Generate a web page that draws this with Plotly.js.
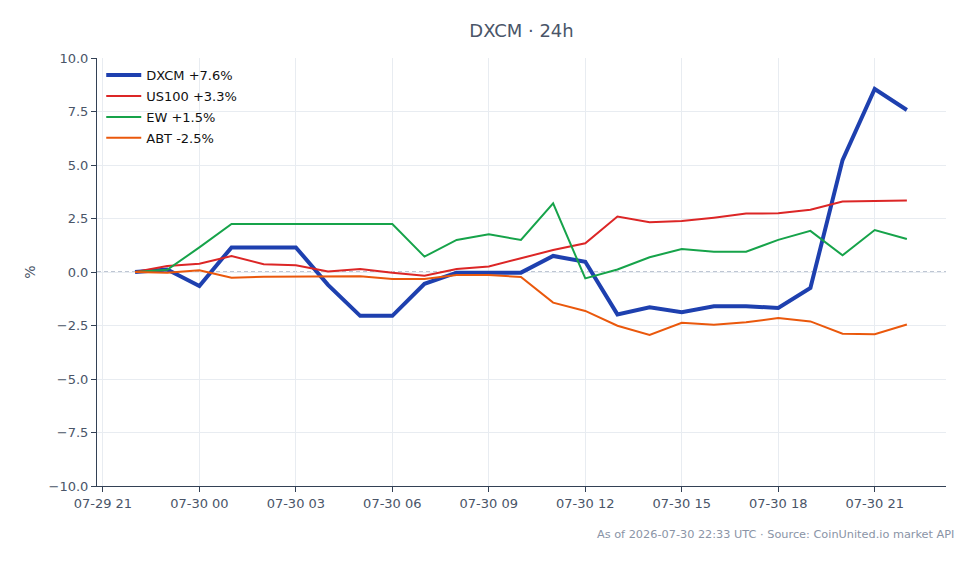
<!DOCTYPE html>
<html>
<head>
<meta charset="utf-8">
<script src="https://cdn.plot.ly/plotly-3.0.1.min.js"></script>
<style>html,body{margin:0;padding:0;background:#fff}#chart{width:978px;height:564px}</style>
</head>
<body>
<div id="chart"></div>
<script>
const times = [
  '2026-07-29 22:00','2026-07-29 23:00','2026-07-30 00:00','2026-07-30 01:00','2026-07-30 02:00',
  '2026-07-30 03:00','2026-07-30 04:00','2026-07-30 05:00','2026-07-30 06:00','2026-07-30 07:00',
  '2026-07-30 08:00','2026-07-30 09:00','2026-07-30 10:00','2026-07-30 11:00','2026-07-30 12:00',
  '2026-07-30 13:00','2026-07-30 14:00','2026-07-30 15:00','2026-07-30 16:00','2026-07-30 17:00',
  '2026-07-30 18:00','2026-07-30 19:00','2026-07-30 20:00','2026-07-30 21:00','2026-07-30 22:00'
];
const dxcm  = [0, 0.12, -0.65, 1.15, 1.15, 1.15, -0.6, -2.05, -2.05, -0.55, -0.03, -0.03, -0.03, 0.75, 0.48, -1.98, -1.65, -1.88, -1.6, -1.6, -1.68, -0.75, 5.23, 8.55, 7.57];
const us100 = [0, 0.28, 0.39, 0.75, 0.36, 0.31, 0.02, 0.14, -0.03, -0.18, 0.14, 0.26, 0.64, 1.03, 1.34, 2.59, 2.32, 2.38, 2.54, 2.73, 2.74, 2.91, 3.29, 3.32, 3.34];
const ew    = [0, 0.1, 1.15, 2.24, 2.24, 2.24, 2.24, 2.24, 2.24, 0.72, 1.5, 1.76, 1.5, 3.21, -0.3, 0.12, 0.69, 1.07, 0.95, 0.95, 1.5, 1.92, 0.78, 1.96, 1.54];
const abt   = [0, -0.03, 0.08, -0.27, -0.22, -0.22, -0.2, -0.2, -0.33, -0.33, -0.14, -0.14, -0.23, -1.43, -1.82, -2.51, -2.94, -2.37, -2.46, -2.35, -2.15, -2.31, -2.88, -2.91, -2.45];
const names = ['DXCM +7.6%', 'US100 +3.3%', 'EW +1.5%', 'ABT -2.5%'];
const yTicks = [-10, -7.5, -5, -2.5, 0, 2.5, 5, 7.5, 10];

const series = [dxcm, us100, ew, abt];
const colors = ['#1e40af', '#dc2626', '#16a34a', '#ea580c'];
const widths = [4, 2, 2, 2];

const data = series.map((s, i) => ({
  x: times, y: s, type: 'scatter', mode: 'lines', name: names[i], legendgroup: 'g' + i,
  line: {color: colors[i], width: widths[i]}
}));

const layout = {
  width: 978, height: 564,
  paper_bgcolor: '#fff', plot_bgcolor: '#fff',
  font: {family: 'DejaVu Sans, sans-serif', size: 13, color: '#4a5568'},
  margin: {l: 97, r: 32, t: 58, b: 78},
  title: {text: 'DXCM · 24h', xref: 'paper', x: 0.5, xanchor: 'center', y: 0.945, yanchor: 'middle',
          font: {size: 18, color: '#4a5568'}},
  xaxis: {
    type: 'date', range: ['2026-07-29 20:49', '2026-07-30 23:13'],
    dtick: 10800000, tickformat: '%m-%d %H',
    showline: true, linecolor: '#334155', linewidth: 1,
    ticks: 'outside', ticklen: 5, tickcolor: '#334155',
    showgrid: true, gridcolor: '#e8ecf1', zeroline: false,
    tickfont: {size: 13, color: '#4a5568'}
  },
  yaxis: {
    range: [-10, 10], tickvals: yTicks, tickformat: '.1f',
    title: {text: '%', font: {size: 14, color: '#4a5568'}, standoff: 9},
    showline: true, linecolor: '#334155', linewidth: 1,
    ticks: 'outside', ticklen: 5, tickcolor: '#334155',
    showgrid: true, gridcolor: '#e8ecf1', zeroline: false,
    tickfont: {size: 13, color: '#4a5568'}
  },
  legend: {x: 0.005, y: 0.995, xanchor: 'left', yanchor: 'top', bgcolor: 'rgba(255,255,255,0)',
           font: {size: 13, color: '#111'}, tracegroupgap: 1, itemwidth: 35},
  shapes: [{type: 'line', xref: 'paper', x0: 0, x1: 1, yref: 'y', y0: 0, y1: 0,
            line: {color: '#7f8ea8', width: 1.2, dash: '4px,3px'}, layer: 'between'}],
  annotations: [{text: 'As of 2026-07-30 22:33 UTC · Source: CoinUnited.io market API',
                 xref: 'paper', yref: 'paper', x: 1.012, y: -0.113, xanchor: 'right', yanchor: 'middle',
                 showarrow: false, font: {size: 11.3, color: '#8a94a6'}}]
};

Plotly.newPlot('chart', data, layout, {displayModeBar: false, staticPlot: true});
</script>
</body>
</html>
